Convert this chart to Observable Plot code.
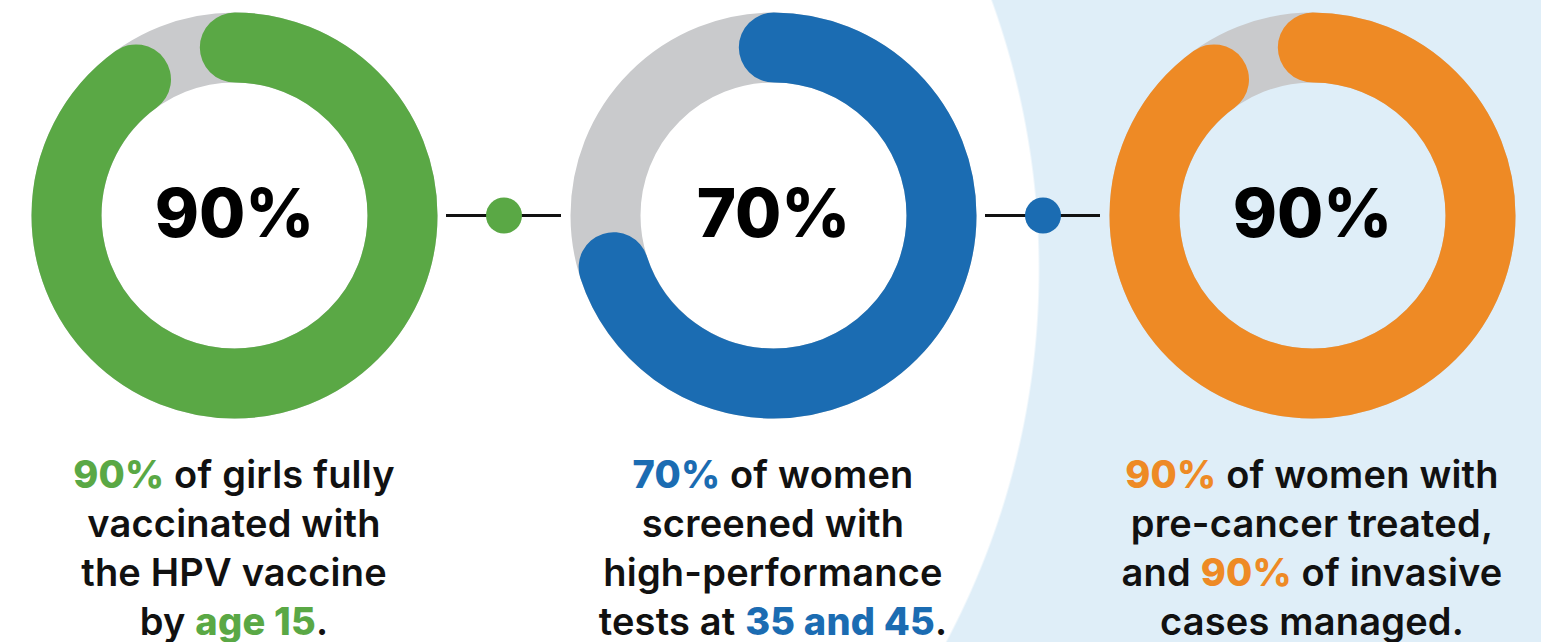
<!DOCTYPE html>
<html>
<head>
<meta charset="utf-8">
<script src="https://cdn.jsdelivr.net/npm/d3@7"></script>
<script src="https://cdn.jsdelivr.net/npm/@observablehq/plot@0.6"></script>
<style>
  html, body { margin: 0; padding: 0; }
  body {
    width: 1541px; height: 642px; overflow: hidden;
    background: radial-gradient(circle 792px at 247px 270px, #ffffff 791px, #dfeef8 793px);
    font-family: Inter, "Open Sans", sans-serif;
  }
  #wrap { position: relative; width: 1541px; height: 642px; }
  .cap {
    position: absolute; top: 430px; width: 560px; text-align: center;
    font-size: 38px; line-height: 49px; font-weight: 600; color: #111;
    padding-top: 20px; letter-spacing: 0.2px;
  }
  .cap b { font-weight: 800; }
</style>
</head>
<body>
<div id="wrap"></div>
<script>
// ---- data ----
const keys = ["vaccination", "screening", "treatment"];
const values = [90, 70, 90];
const colors = ["#5aa845", "#1b6cb2", "#ee8a25"];
const captions = [
  ["{90%} of girls fully", "vaccinated with", "the HPV vaccine", "by {age 15}."],
  ["{70%} of women", "screened with", "high-performance", "tests at {35 and 45}."],
  ["{90%} of women with", "pre-cancer treated,", "and {90%} of invasive", "cases managed."]
];
const trackColor = "#c9cacc";

// ---- build tables ----
const items = keys.map((k, i) => ({key: k, index: i, value: values[i], color: colors[i]}));
const links = items.slice(0, -1).map((d, i) => ({from: i, to: i + 1, color: d.color}));

const R = 168, W = 70;
const C = 2 * Math.PI * R;

const ringMarks = items.map(d => {
  const L = d.value / 100 * C;
  return Plot.dot([d], {
    x: "index", r: R, fill: "none", stroke: d.color, strokeWidth: W,
    strokeLinecap: "round",
    strokeDasharray: `${L} ${C - L}`,
    strokeDashoffset: C / 4
  });
});

const chart = Plot.plot({
  width: 1541,
  height: 430,
  marginLeft: 234,
  marginRight: 229,
  marginTop: 0,
  marginBottom: 0,
  style: {background: "transparent", overflow: "visible", fontFamily: "Inter, sans-serif"},
  x: {domain: [0, keys.length - 1], axis: null},
  color: {type: "identity"},
  marks: [
    Plot.ruleY(links, {y: null, x1: "from", x2: "to", stroke: "#111", strokeWidth: 3, insetLeft: 212, insetRight: 212}),
    Plot.dot(links, {x: d => (d.from + d.to) / 2, r: 18, fill: "color"}),
    Plot.dot(items, {x: "index", r: R, fill: "none", stroke: trackColor, strokeWidth: W}),
    ...ringMarks,
    Plot.text(items, {x: "index", text: d => d.value + "%", fontSize: 67, fontWeight: 800, fill: "#000", fontFamily: "Inter, sans-serif"})
  ]
});

const wrap = document.getElementById("wrap");
wrap.appendChild(chart);
const xs = chart.scale("x");
items.forEach((d, i) => {
  const div = document.createElement("div");
  div.className = "cap";
  const cx = xs.apply(d.index);
  div.style.left = (cx - 280) + "px";
  div.innerHTML = captions[i].map(line =>
    line.replace(/\{([^}]*)\}/g, (m, t) => `<b style="color:${d.color}">${t}</b>`)
  ).join("<br>");
  wrap.appendChild(div);
});
</script>
</body>
</html>
